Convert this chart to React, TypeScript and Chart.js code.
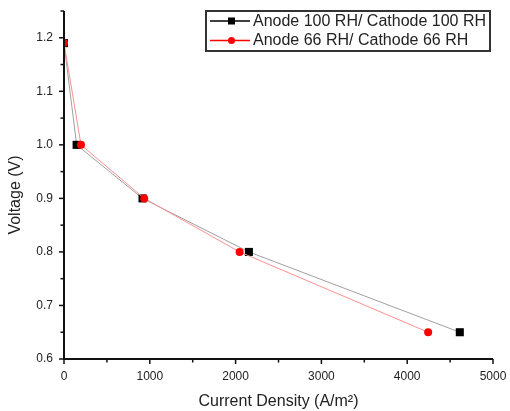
import React, { useEffect, useRef } from "react";
import { Chart, registerables } from "chart.js";

Chart.register(...registerables);

const seriesLabels = ["Anode 100 RH/ Cathode 100 RH", "Anode 66 RH/ Cathode 66 RH"];
const x100 = [0, 147, 915, 2155, 4613];
const y100 = [1.19, 1.0, 0.9, 0.8, 0.65];
const x66 = [0, 198, 935, 2047, 4244];
const y66 = [1.19, 1.0, 0.9, 0.8, 0.65];

const xTitle = "Current Density (A/m\u00B2)";
const yTitle = "Voltage (V)";
const FONT = "'Liberation Sans', Arial, sans-serif";

const customPlugin = {
  id: "custom",
  afterDraw(chart: any) {
    const ctx = chart.ctx;
    const xs = chart.scales.x;
    const ys = chart.scales.y;
    const ca = chart.chartArea;
    ctx.save();
    // axes
    ctx.strokeStyle = "#111";
    ctx.lineWidth = 2;
    ctx.beginPath();
    ctx.moveTo(ca.left, ca.top);
    ctx.lineTo(ca.left, ca.bottom);
    ctx.lineTo(ca.right, ca.bottom);
    ctx.stroke();
    ctx.lineWidth = 1.5;
    xs.ticks.forEach((t: any) => {
      const px = xs.getPixelForValue(t.value);
      const major = Math.round(t.value) % 1000 === 0;
      ctx.beginPath();
      ctx.moveTo(px, ca.bottom);
      ctx.lineTo(px, ca.bottom + (major ? 5 : 3.5));
      ctx.stroke();
    });
    ys.ticks.forEach((t: any) => {
      const py = ys.getPixelForValue(t.value);
      const major = Math.round(t.value * 100) % 10 === 0;
      ctx.beginPath();
      ctx.moveTo(ca.left, py);
      ctx.lineTo(ca.left - (major ? 5 : 3.5), py);
      ctx.stroke();
    });
    // y title
    ctx.fillStyle = "#222";
    ctx.font = "16px " + FONT;
    ctx.textAlign = "center";
    ctx.textBaseline = "middle";
    ctx.translate(16, 195);
    ctx.rotate(-Math.PI / 2);
    ctx.fillText(yTitle, 0, 0);
    ctx.restore();

    // legend
    ctx.save();
    const bx = 206, by = 11, bw = 284, bh = 40;
    ctx.fillStyle = "#fff";
    ctx.fillRect(bx, by, bw, bh);
    ctx.strokeStyle = "#333";
    ctx.lineWidth = 2;
    ctx.strokeRect(bx, by, bw, bh);
    const rows = [21, 40.5];
    chart.data.datasets.forEach((ds: any, i: number) => {
      const yy = rows[i];
      ctx.strokeStyle = ds.legendLine;
      ctx.lineWidth = 1.5;
      ctx.beginPath();
      ctx.moveTo(210, yy);
      ctx.lineTo(250, yy);
      ctx.stroke();
      ctx.fillStyle = ds.pointBackgroundColor;
      if (ds.pointStyle === "rect") {
        ctx.fillRect(228, yy - 3.5, 7, 7);
      } else {
        ctx.beginPath();
        ctx.arc(231.5, yy, 3.5, 0, Math.PI * 2);
        ctx.fill();
      }
      ctx.fillStyle = "#222";
      ctx.font = "16px " + FONT;
      ctx.textAlign = "left";
      ctx.textBaseline = "middle";
      ctx.fillText(ds.label, 253, yy + 0.5);
    });
    ctx.restore();
  },
};

export default function App() {
  const ref = useRef<HTMLCanvasElement>(null);
  useEffect(() => {
    if (!ref.current) return;
    const chart = new Chart(ref.current, {
      type: "scatter",
      data: {
        datasets: [
          {
            label: seriesLabels[0],
            data: x100.map((x, i) => ({ x, y: y100[i] })),
            showLine: true,
            borderColor: "#a0a0a0",
            borderWidth: 1,
            pointStyle: "rect",
            pointRadius: 5.7,
            pointBackgroundColor: "#000",
            pointBorderColor: "#000",
            pointBorderWidth: 0,
            order: 2,
            legendLine: "#000",
          } as any,
          {
            label: seriesLabels[1],
            data: x66.map((x, i) => ({ x, y: y66[i] })),
            showLine: true,
            borderColor: "#ff9090",
            borderWidth: 1,
            pointStyle: "circle",
            pointRadius: 4,
            pointBackgroundColor: "#ff0000",
            pointBorderColor: "#ff0000",
            pointBorderWidth: 0,
            order: 1,
            legendLine: "#ff0000",
          } as any,
        ],
      },
      options: {
        animation: false,
        responsive: false,
        maintainAspectRatio: false,
        layout: { padding: { top: 11, right: 17, left: 0, bottom: 0 } },
        plugins: { legend: { display: false }, tooltip: { enabled: false } },
        scales: {
          x: {
            type: "linear",
            min: 0,
            max: 5000,
            grid: { display: false, drawTicks: false },
            border: { display: false },
            ticks: {
              stepSize: 500,
              autoSkip: false,
              maxRotation: 0,
              padding: 10,
              color: "#222",
              font: { size: 12, family: FONT },
              callback: (v: any) => (Math.round(v) % 1000 === 0 ? String(Math.round(v)) : ""),
            },
            title: {
              display: true,
              text: xTitle,
              color: "#222",
              font: { size: 16, family: FONT },
              padding: { top: 0, bottom: 0 },
            },
            afterFit: (s: any) => {
              s.height = 52;
              s.paddingLeft = 0;
              s.paddingRight = 0;
            },
          },
          y: {
            type: "linear",
            min: 0.6,
            max: 1.25,
            grid: { display: false, drawTicks: false },
            border: { display: false },
            ticks: {
              stepSize: 0.05,
              autoSkip: false,
              padding: 11,
              color: "#222",
              font: { size: 12, family: FONT },
              callback: (v: any) => (Math.round(v * 100) % 10 === 0 ? Number(v).toFixed(1) : ""),
            },
            afterFit: (s: any) => {
              s.width = 64;
              s.paddingTop = 0;
              s.paddingBottom = 0;
            },
          },
        },
      },
      plugins: [customPlugin],
    });
    return () => chart.destroy();
  }, []);
  return (
    <div style={{ position: "fixed", left: 0, top: 0, width: 510, height: 411, background: "#fff" }}>
      <canvas ref={ref} width={510} height={411} style={{ width: 510, height: 411 }} />
    </div>
  );
}
